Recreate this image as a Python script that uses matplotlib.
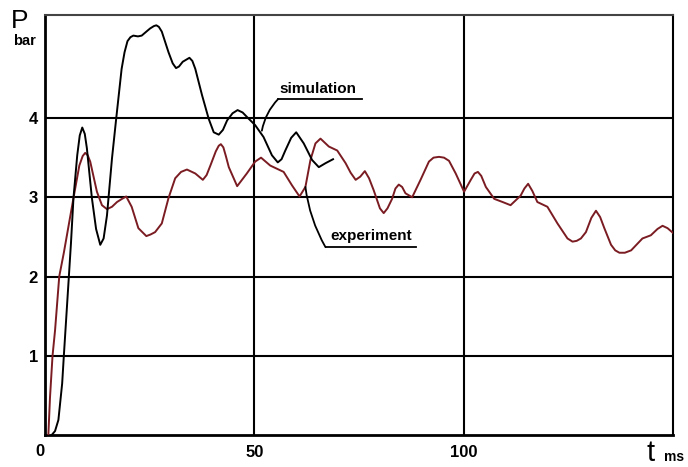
import matplotlib
matplotlib.use("Agg")
import matplotlib.pyplot as plt

plt.rcParams['font.family'] = ['Liberation Sans', 'DejaVu Sans']

# simulation curve (t in ms, P in bar)
sim_t = [1.6, 2.4, 3.2, 4.1, 4.5, 5.1, 5.7, 6.2, 6.8, 7.7, 8.3, 8.9, 9.5, 10.0, 11.2, 12.2,
         13.2, 14.0, 14.8, 16.0, 17.0, 18.3, 19.0, 19.7, 20.4, 21.1, 22.2, 23.1, 24.2,
         25.1, 26.0, 26.6, 27.2, 27.9, 29.5, 30.5, 31.3, 32.0, 32.9, 34.5, 35.2, 35.9,
         37.5, 39.1, 40.3, 41.5, 42.5, 43.5, 44.8, 46.0, 47.2, 48.3, 50.2, 52.2,
         54.2, 55.6, 56.5, 57.4, 58.8, 60.0, 61.8, 63.8, 65.4, 67.0, 68.8]
sim_p = [0.0, 0.05, 0.19, 0.65, 1.0, 1.5, 2.0, 2.42, 2.99, 3.53, 3.78, 3.88, 3.80, 3.62,
         2.99, 2.60, 2.40, 2.48, 2.77, 3.49, 3.99, 4.62, 4.83, 4.97, 5.02, 5.04, 5.03,
         5.04, 5.09, 5.13, 5.16, 5.17, 5.15, 5.09, 4.83, 4.69, 4.63, 4.65, 4.71, 4.76,
         4.72, 4.62, 4.29, 3.99, 3.82, 3.79, 3.85, 3.97, 4.06, 4.10, 4.07, 4.01, 3.91,
         3.76, 3.53, 3.44, 3.48, 3.59, 3.75, 3.82, 3.68, 3.47, 3.38, 3.43, 3.48]

# experiment curve
exp_t = [0.8, 1.2, 1.8, 2.4, 3.4, 4.5, 5.5, 6.8, 8.2, 9.0, 9.6, 10.2, 10.8, 12.4, 13.6,
         14.8, 16.0, 17.2, 18.4, 19.4, 20.7, 22.3, 24.2, 25.2, 26.3, 27.9, 29.5, 31.1,
         32.5, 33.9, 35.9, 37.7, 38.6, 39.5, 40.8, 41.5, 42.0, 42.6, 43.2, 43.9, 45.9,
         48.2, 50.2, 51.6, 53.8, 55.8, 57.0, 59.0, 60.8, 62.2, 63.4, 64.6, 65.8, 67.8,
         69.8, 71.8, 73.0, 74.2, 75.3, 76.4, 77.4, 78.5, 80.0, 80.9, 81.8, 82.9, 83.7,
         84.5, 85.3, 86.1, 87.7, 89.7, 91.7, 92.8, 94.1, 95.3, 96.5, 98.1, 100.1, 101.7,
         102.6, 103.4, 104.2, 105.3, 107.3, 109.3, 111.2, 113.6, 114.5, 115.4, 116.4,
         117.6, 120.0, 122.4, 124.8, 126.0, 127.0, 128.0, 129.2, 130.5, 131.6, 132.6,
         133.6, 135.2, 136.2, 137.2, 138.5, 140.0, 142.7, 144.7, 146.3, 147.5, 148.7,
         150.0]
exp_p = [0.0, 0.48, 1.0, 1.32, 2.0, 2.3, 2.6, 2.99, 3.40, 3.52, 3.56, 3.53, 3.45, 3.07,
         2.90, 2.85, 2.88, 2.94, 2.98, 3.01, 2.88, 2.61, 2.51, 2.53, 2.56, 2.67, 2.99,
         3.24, 3.32, 3.35, 3.30, 3.22, 3.28, 3.40, 3.58, 3.65, 3.67, 3.63, 3.52, 3.38,
         3.14, 3.30, 3.45, 3.50, 3.40, 3.35, 3.32, 3.15, 3.01, 3.13, 3.47, 3.68, 3.74,
         3.64, 3.59, 3.43, 3.31, 3.22, 3.26, 3.33, 3.24, 3.09, 2.86, 2.80, 2.86, 2.98,
         3.11, 3.16, 3.13, 3.05, 3.00, 3.22, 3.45, 3.50, 3.51, 3.50, 3.46, 3.30, 3.07,
         3.22, 3.30, 3.32, 3.27, 3.13, 2.98, 2.94, 2.90, 3.02, 3.11, 3.17, 3.08, 2.94,
         2.88, 2.67, 2.48, 2.44, 2.45, 2.48, 2.56, 2.74, 2.83, 2.75, 2.61, 2.40, 2.33,
         2.30, 2.30, 2.33, 2.48, 2.52, 2.60, 2.64, 2.61, 2.55]

x_ticks = [0, 50, 100]
y_ticks = [1, 2, 3, 4]

fig = plt.figure(figsize=(6.88, 4.67), dpi=100)
ax = fig.add_axes([45 / 688, 32 / 467, 628 / 688, 420 / 467])

for y in y_ticks:
    ax.axhline(y, color='black', lw=1.5, zorder=1)
for x in x_ticks[1:]:
    ax.axvline(x, color='black', lw=1.5, zorder=1)

ax.plot(exp_t, exp_p, color='#7a1c22', lw=1.4, solid_joinstyle='round', zorder=3)
ax.plot(sim_t, sim_p, color='black', lw=1.4, solid_joinstyle='round', zorder=4)

ax.set_xlim(0, 150)
ax.set_ylim(0, 5.3)
ax.set_xticks(x_ticks)
ax.set_yticks(y_ticks)
ax.set_xticklabels(['', '50', '100'], fontsize=12, fontweight='bold')
ax.set_yticklabels([str(v) for v in y_ticks], fontsize=12, fontweight='bold')
ax.tick_params(axis='y', length=0, pad=5)
ax.tick_params(axis='x', length=0, pad=7)

for side in ['left', 'bottom']:
    ax.spines[side].set_linewidth(2)
ax.spines['right'].set_linewidth(1.5)
ax.spines['top'].set_linewidth(1.5)
ax.spines['top'].set_color('#444444')

# axis titles
fig.text(20 / 688, 1 - 21 / 467, 'P', fontsize=19, ha='center', va='center')
fig.text(24 / 688, 1 - 41 / 467, 'bar', fontsize=10.5, fontweight='bold', ha='center', va='center')
fig.text(40 / 688, 1 - 452 / 467, '0', fontsize=12, fontweight='bold', ha='center', va='center')
fig.text(651 / 688, 1 - 453 / 467, 't', fontsize=21, ha='center', va='center')
fig.text(674 / 688, 1 - 457 / 467, 'ms', fontsize=10, fontweight='bold', ha='center', va='center')

# labels with leader lines
ax.text(65.2, 4.36, 'simulation', fontsize=11, fontweight='bold', ha='center', va='center')
ax.plot([55.7, 75.6], [4.24, 4.24], color='black', lw=1.3, clip_on=False)
ax.annotate('', xy=(51.8, 3.84), xytext=(55.7, 4.24),
            arrowprops=dict(arrowstyle='-', color='black', lw=1.3,
                            connectionstyle='arc3,rad=0.15', shrinkA=0, shrinkB=0))

ax.text(77.8, 2.51, 'experiment', fontsize=11, fontweight='bold', ha='center', va='center')
ax.plot([67.0, 88.5], [2.37, 2.37], color='black', lw=1.3, clip_on=False)
ax.annotate('', xy=(62.2, 3.13), xytext=(67.0, 2.37),
            arrowprops=dict(arrowstyle='-', color='black', lw=1.3,
                            connectionstyle='arc3,rad=-0.1', shrinkA=0, shrinkB=0))

fig.savefig('out.png', dpi=100)
